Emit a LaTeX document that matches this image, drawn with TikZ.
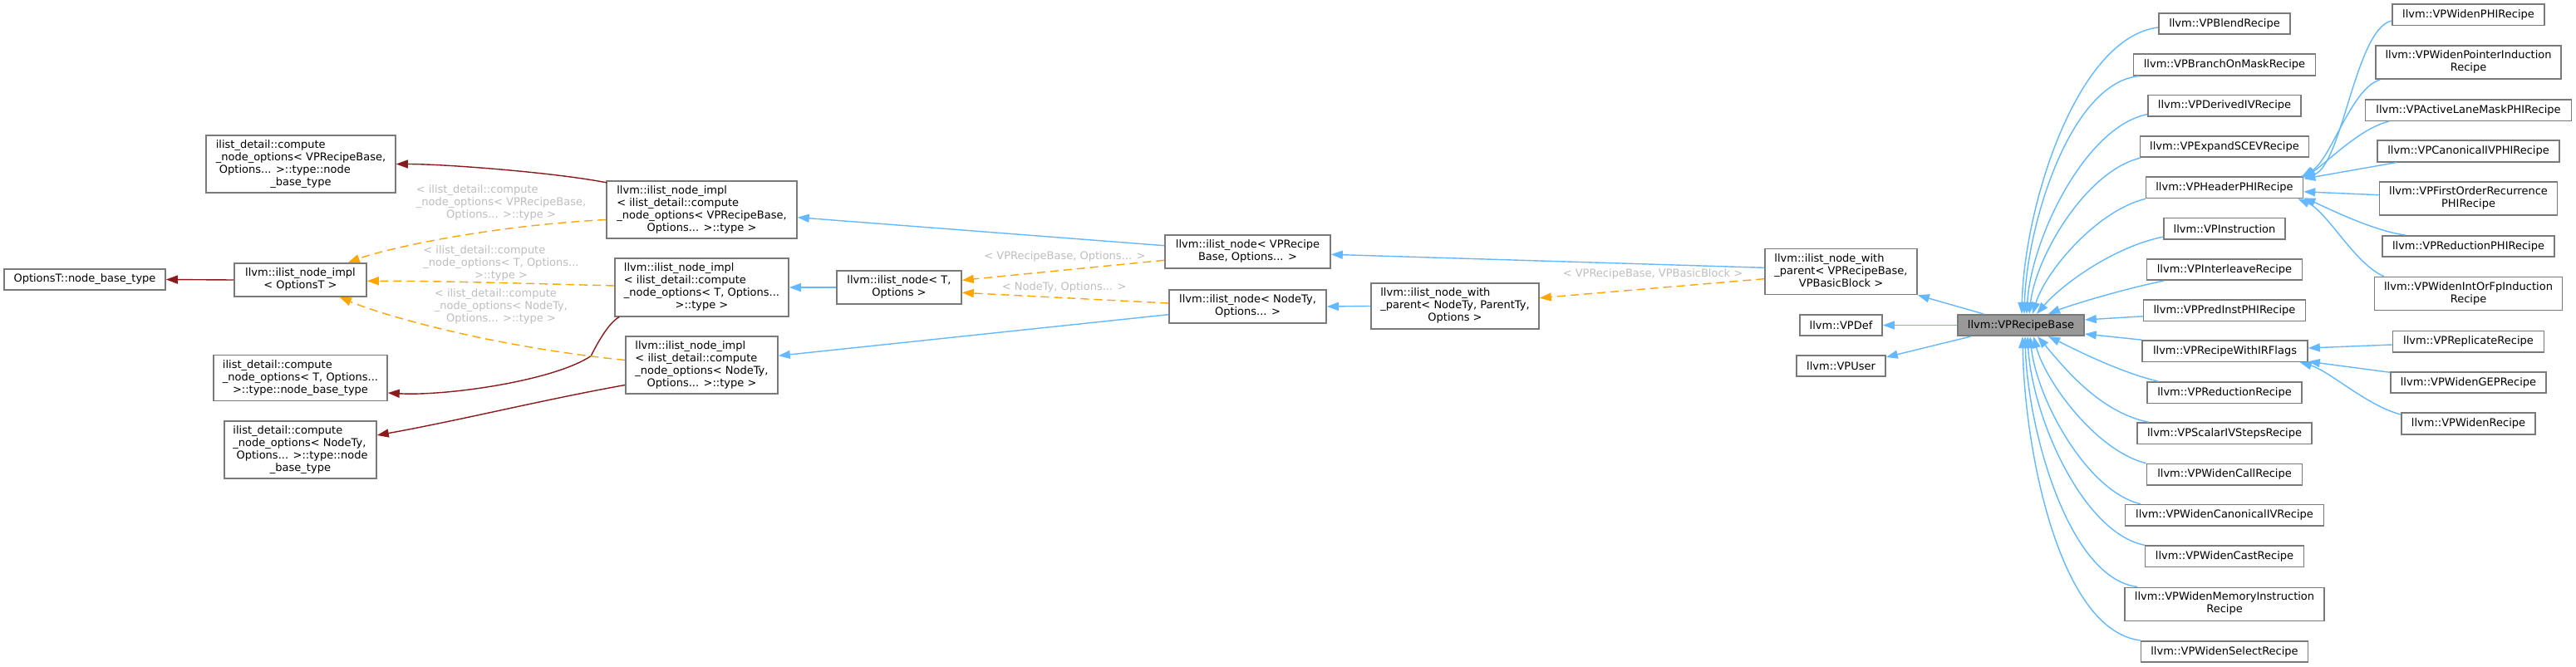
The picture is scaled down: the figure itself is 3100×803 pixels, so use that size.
\documentclass[tikz,border=0pt]{standalone}
\usepackage{fontspec}
\setmainfont{DejaVu Sans}
\usetikzlibrary{arrows.meta,calc}
\definecolor{eblue}{HTML}{63B8FF}
\definecolor{ered}{HTML}{8B1A1A}
\definecolor{eorange}{HTML}{FFA500}
\definecolor{bgray}{HTML}{7A7A7A}
\definecolor{lgray}{HTML}{BEBEBE}
\definecolor{rootfill}{HTML}{999999}
\newcommand\ctab[1]{\begin{tabular}{@{}c@{}}#1\end{tabular}}
\newcommand\ltab[2]{\begin{tabular}{@{}l@{}}#1\\\multicolumn{1}{@{}c@{}}{#2}\end{tabular}}
\tikzset{
  box/.style={draw=bgray, line width=0.8pt, fill=white, rectangle, inner sep=0pt, font=\fontsize{6.5}{7.5}\selectfont},
  rootbox/.style={box, fill=rootfill},
  hA/.style={minimum height=12.75pt},
  hB/.style={minimum height=20pt},
  hC/.style={minimum height=27.5pt},
  hD/.style={minimum height=34.75pt},
  lbl/.style={text=lgray, inner sep=0pt, font=\fontsize{6.5}{7.5}\selectfont},
  inb/.style={draw=eblue, line width=0.7pt, -{Triangle[length=7pt,width=5pt]}},
  inr/.style={draw=ered, line width=0.7pt, -{Triangle[length=7pt,width=5pt]}},
  ino/.style={draw=eorange, line width=0.7pt, dash pattern=on 5pt off 3pt, -{Triangle[length=7pt,width=5pt]}},
}
\begin{document}
\begin{tikzpicture}[x=0.5pt,y=-0.5pt]
\fill[white] (0,0) rectangle (3100,803);
\useasboundingbox (0,0) rectangle (3100,803);

% ---- left part ----
\node[box,hA,minimum width=97pt] (optbase) at (102,336.5) {OptionsT::node\_base\_type};
\node[box,hB,minimum width=79.5pt] (implOpt) at (361.5,337) {\ctab{llvm::ilist\_node\_impl\\< OptionsT >}};
\node[box,hD,minimum width=114pt] (cmpVP) at (362,197.5) {\ltab{ilist\_detail::compute\\\_node\_options< VPRecipeBase,\\\ Options... >::type::node}{\_base\_type}};
\node[box,hC,minimum width=104.5pt] (cmpT) at (361.5,455) {\ltab{ilist\_detail::compute\\\_node\_options< T, Options...}{>::type::node\_base\_type}};
\node[box,hD,minimum width=91.5pt] (cmpN) at (361.5,541.5) {\ltab{ilist\_detail::compute\\\_node\_options< NodeTy,\\\ Options... >::type::node}{\_base\_type}};
\node[box,hD,minimum width=114.5pt] (implVP) at (844.5,252.5) {\ltab{llvm::ilist\_node\_impl\\< ilist\_detail::compute\\\_node\_options< VPRecipeBase,}{Options... >::type >}};
\node[box,hD,minimum width=104.5pt] (implT) at (844.5,346) {\ltab{llvm::ilist\_node\_impl\\< ilist\_detail::compute\\\_node\_options< T, Options...}{>::type >}};
\node[box,hD,minimum width=91.5pt] (implN) at (844.5,439.5) {\ltab{llvm::ilist\_node\_impl\\< ilist\_detail::compute\\\_node\_options< NodeTy,}{Options... >::type >}};
\node[box,hB,minimum width=75pt] (nodeT) at (1082,346) {\ctab{llvm::ilist\_node< T,\\Options >}};
\node[box,hB,minimum width=99.5pt] (nodeVP) at (1501.5,303) {\ctab{llvm::ilist\_node< VPRecipe\\Base, Options... >}};
\node[box,hB,minimum width=94.5pt] (nodeN) at (1501.5,369) {\ctab{llvm::ilist\_node< NodeTy,\\Options... >}};
\node[box,hC,minimum width=101pt] (wpN) at (1751,368.5) {\ltab{llvm::ilist\_node\_with\\\_parent< NodeTy, ParentTy,}{Options >}};
\node[box,hC,minimum width=91.5pt] (wpVP) at (2215.5,327) {\ltab{llvm::ilist\_node\_with\\\_parent< VPRecipeBase,}{VPBasicBlock >}};
\node[box,hA,minimum width=49.5pt] (vpdef) at (2215.5,391.5) {llvm::VPDef};
\node[box,hA,minimum width=53.5pt] (vpuser) at (2215.5,440.5) {llvm::VPUser};
\node[rootbox,hA,minimum width=76pt] (base) at (2432,391.5) {llvm::VPRecipeBase};

% ---- middle column of derived recipes ----
\node[box,hA,minimum width=79pt] (blend) at (2677,28.5) {llvm::VPBlendRecipe};
\node[box,hA,minimum width=109.5pt] (branch) at (2677,78) {llvm::VPBranchOnMaskRecipe};
\node[box,hA,minimum width=92pt] (derived) at (2677,127.3) {llvm::VPDerivedIVRecipe};
\node[box,hA,minimum width=101.5pt] (expand) at (2677,176.5) {llvm::VPExpandSCEVRecipe};
\node[box,hA,minimum width=94.5pt] (header) at (2677,225.8) {llvm::VPHeaderPHIRecipe};
\node[box,hA,minimum width=73pt] (instr) at (2677,275.2) {llvm::VPInstruction};
\node[box,hA,minimum width=93.5pt] (inter) at (2677,324.5) {llvm::VPInterleaveRecipe};
\node[box,hA,minimum width=97.5pt] (pred) at (2677,373.8) {llvm::VPPredInstPHIRecipe};
\node[box,hA,minimum width=99.5pt] (irf) at (2677.5,422.7) {llvm::VPRecipeWithIRFlags};
\node[box,hA,minimum width=93pt] (red) at (2677,472.7) {llvm::VPReductionRecipe};
\node[box,hA,minimum width=105pt] (scal) at (2677,521.8) {llvm::VPScalarIVStepsRecipe};
\node[box,hA,minimum width=93.5pt] (call) at (2677,571.3) {llvm::VPWidenCallRecipe};
\node[box,hA,minimum width=119.5pt] (canon) at (2677,620.3) {llvm::VPWidenCanonicalIVRecipe};
\node[box,hA,minimum width=95.5pt] (cast) at (2677,669.8) {llvm::VPWidenCastRecipe};
\node[box,hB,minimum width=120pt] (mem) at (2677,727.3) {\ctab{llvm::VPWidenMemoryInstruction\\Recipe}};
\node[box,hA,minimum width=100.5pt] (sel) at (2677,784.5) {llvm::VPWidenSelectRecipe};

% ---- right column ----
\node[box,hA,minimum width=91.5pt] (wphi) at (2970.5,17.8) {llvm::VPWidenPHIRecipe};
\node[box,hB,minimum width=111.5pt] (wptr) at (2970.5,75.2) {\ctab{llvm::VPWidenPointerInduction\\Recipe}};
\node[box,hA,minimum width=124pt] (alm) at (2970.5,132.7) {llvm::VPActiveLaneMaskPHIRecipe};
\node[box,hA,minimum width=109.5pt] (cphi) at (2970.5,182) {llvm::VPCanonicalIVPHIRecipe};
\node[box,hB,minimum width=107pt] (fo) at (2970.5,239) {\ctab{llvm::VPFirstOrderRecurrence\\PHIRecipe}};
\node[box,hA,minimum width=103.5pt] (rphi) at (2970.5,296.5) {llvm::VPReductionPHIRecipe};
\node[box,hB,minimum width=113pt] (wifp) at (2970.5,353.5) {\ctab{llvm::VPWidenIntOrFpInduction\\Recipe}};
\node[box,hA,minimum width=91pt] (repl) at (2970.5,411.2) {llvm::VPReplicateRecipe};
\node[box,hA,minimum width=93.5pt] (gep) at (2970.5,460.5) {llvm::VPWidenGEPRecipe};
\node[box,hA,minimum width=80.5pt] (widen) at (2970.5,510) {llvm::VPWidenRecipe};

% ---- edge labels ----
\node[lbl] (l1) at (603,244) {\ltab{< ilist\_detail::compute\\\_node\_options< VPRecipeBase,}{Options... >::type >}};
\node[lbl] (l2) at (603,317.7) {\ltab{< ilist\_detail::compute\\\_node\_options< T, Options...}{>::type >}};
\node[lbl] (l3) at (603,369) {\ltab{< ilist\_detail::compute\\\_node\_options< NodeTy,}{Options... >::type >}};
\node[lbl] (l4) at (1281.5,308.7) {< VPRecipeBase, Options... >};
\node[lbl] (l5) at (1280.7,345.7) {< NodeTy, Options... >};
\node[lbl] (l6) at (1989,330.3) {< VPRecipeBase, VPBasicBlock >};

% ---- left edges ----
\draw[inr] (implOpt.west) -- (optbase.east);
\draw[inr] ($(implVP.north west)+(1,3)$) .. controls +(-60,-12) and +(60,0) .. (cmpVP.east);
\draw[inr] ($(implT.south west)+(6,0)$) .. controls +(-14,8) and +(6,-12) .. ++(-34,47) .. controls +(-45,30) and +(70,4) .. ($(cmpT.east)+(0,18)$);
\draw[inr] ($(implN.west)+(0,24)$) .. controls +(-100,18) and +(100,-18) .. ($(cmpN.east)+(0,-17.5)$);
\draw[ino] ($(implVP.west)+(0,12)$) .. controls +(-150,8) and +(40,-15) .. ($(implOpt.north east)+(-23,0)$);
\draw[ino] ($(implT.west)+(0,-2)$) .. controls +(-150,-4) and +(80,0) .. ($(implOpt.east)+(0,1.3)$);
\draw[ino] ($(implN.west)+(0,-6)$) .. controls +(-150,-15) and +(60,25) .. ($(implOpt.south east)+(-33,0)$);

% ---- middle edges ----
\draw[inb] (nodeT.west) -- (implT.east);
\draw[inb] ($(nodeVP.west)+(0,-7.3)$) -- ($(implVP.east)+(0,9.2)$);
\draw[inb] ($(nodeN.west)+(0,9.7)$) -- ($(implN.east)+(0,-11.2)$);
\draw[ino] ($(nodeVP.west)+(0,10.3)$) -- ($(nodeT.east)+(0,-8.7)$);
\draw[ino] ($(nodeN.west)+(0,-4)$) -- ($(nodeT.east)+(0,6.3)$);
\draw[inb] (wpN.west) -- (nodeN.east);
\draw[inb] ($(wpVP.west)+(0,-4.7)$) -- ($(nodeVP.east)+(0,3.3)$);
\draw[ino] ($(wpVP.west)+(0,8.7)$) -- ($(wpN.east)+(0,-9.8)$);
\draw[inb] ($(base.north)+(-45,0)$) -- (wpVP.south east);
\draw[inb] (base.west) -- (vpdef.east);
\draw[inb] ($(base.south west)+(16.6,0)$) -- ($(vpuser.east)+(0,-10.5)$);

% ---- derived -> VPRecipeBase ----
\draw[inb] ($(blend.west)+(0,4.5)$) .. controls +(-98,12) and +(3,-130) .. ($(base.north)+(1,0)$);
\draw[inb] ($(branch.south west)+(7.5,0)$) .. controls +(-83,8) and +(3,-107) .. ($(base.north)+(4,0)$);
\draw[inb] ($(derived.south west)+(0,-3.3)$) .. controls +(-75,15) and +(5,-90) .. ($(base.north)+(7,0)$);
\draw[inb] ($(expand.south west)+(1.5,0)$) .. controls +(-65,15) and +(8,-70) .. ($(base.north)+(10,0)$);
\draw[inb] (header.south west) .. controls +(-60,15) and +(15,-50) .. ($(base.north)+(14,0)$);
\draw[inb] ($(instr.south west)+(0,-3.6)$) .. controls +(-60,12) and +(30,-35) .. ($(base.north)+(19,0)$);
\draw[inb] ($(inter.south west)+(21.5,0)$) .. controls +(-50,10) and +(25,-10) .. ($(base.north)+(33,0)$);
\draw[inb] ($(pred.west)+(0,7)$) -- ($(base.east)+(0,-6.5)$);
\draw[inb] (irf.north west) -- ($(base.east)+(0,10.5)$);
\draw[inb] ($(red.north west)+(14,0)$) .. controls +(-50,-12) and +(25,12) .. ($(base.south)+(33,0)$);
\draw[inb] ($(scal.north west)+(14.5,0)$) .. controls +(-60,-12) and +(30,35) .. ($(base.south)+(20,0)$);
\draw[inb] (call.north west) .. controls +(-60,-15) and +(15,55) .. ($(base.south)+(15,0)$);
\draw[inb] ($(canon.north west)+(19.5,0)$) .. controls +(-65,-15) and +(8,75) .. ($(base.south)+(11,0)$);
\draw[inb] (cast.north west) .. controls +(-75,-15) and +(5,95) .. ($(base.south)+(8,0)$);
\draw[inb] ($(mem.north west)+(16,0)$) .. controls +(-83,-10) and +(3,112) .. ($(base.south)+(5,0)$);
\draw[inb] (sel.north west) .. controls +(-98,-12) and +(2,135) .. ($(base.south)+(2,0)$);

% ---- header PHI subtree ----
\draw[inb] ($(wphi.west)+(0,7.2)$) .. controls +(-45,10) and +(50,-5) .. ($(header.north east)+(-4,0)$);
\draw[inb] ($(wptr.south west)+(6,0)$) .. controls +(-35,10) and +(35,-20) .. ($(header.north east)+(-2,0)$);
\draw[inb] ($(alm.south west)+(29,0)$) .. controls +(-35,8) and +(25,-15) .. ($(header.north east)+(0,1)$);
\draw[inb] ($(cphi.south west)+(24,0)$) -- ($(header.north east)+(0,3)$);
\draw[inb] ($(fo.west)+(0,-4.3)$) -- ($(header.east)+(0,5)$);
\draw[inb] ($(rphi.north west)+(28,0)$) .. controls +(-40,-5) and +(20,8) .. ($(header.south east)+(0,-1)$);
\draw[inb] ($(wifp.north west)+(12,0)$) .. controls +(-35,-15) and +(35,15) .. ($(header.south east)+(-7,0)$);

% ---- IR flags subtree ----
\draw[inb] ($(repl.west)+(0,3.8)$) -- ($(irf.east)+(0,-3.7)$);
\draw[inb] ($(gep.west)+(0,-12.2)$) -- ($(irf.south east)+(0,-1)$);
\draw[inb] ($(widen.west)+(0,-11)$) .. controls +(-40,-10) and +(35,10) .. ($(irf.south east)+(-10,0)$);
\end{tikzpicture}
\end{document}
